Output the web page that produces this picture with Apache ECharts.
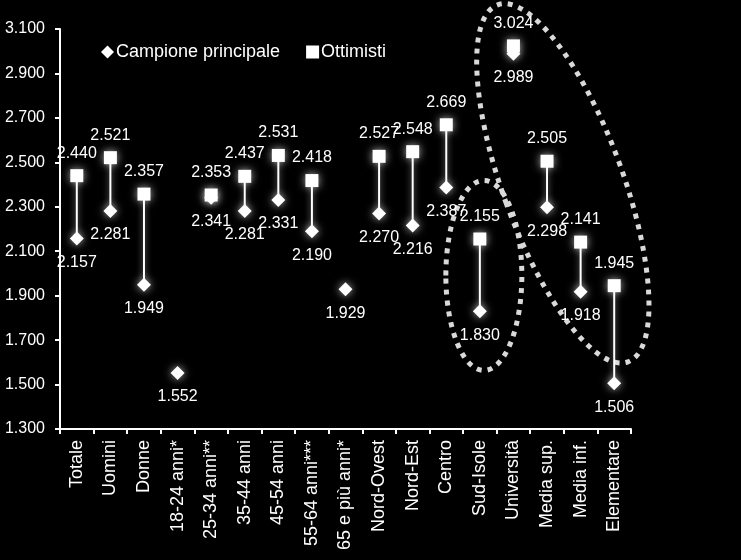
<!DOCTYPE html>
<html>
<head>
<meta charset="utf-8">
<script src="https://cdn.jsdelivr.net/npm/echarts@6/dist/echarts.min.js"></script>
<style>
html,body{margin:0;padding:0;background:#000;}
#c{width:741px;height:560px;}
</style>
</head>
<body>
<div id="c"></div>
<script>
const categories = ['Totale','Uomini','Donne','18-24 anni*','25-34 anni**','35-44 anni','45-54 anni','55-64 anni***','65 e più anni*','Nord-Ovest','Nord-Est','Centro','Sud-Isole','Università','Media sup.','Media inf.','Elementare'];
const campione = [2.157, 2.281, 1.949, 1.552, 2.341, 2.281, 2.331, 2.190, 1.929, 2.270, 2.216, 2.387, 1.830, 2.989, 2.298, 1.918, 1.506];
const ottimisti = [2.440, 2.521, 2.357, null, 2.353, 2.437, 2.531, 2.418, null, 2.527, 2.548, 2.669, 2.155, 3.024, 2.505, 2.141, 1.945];
const yMin = 1.3, yMax = 3.1, yStep = 0.2;

const FONT = '"Liberation Sans", Arial, sans-serif';
const chart = echarts.init(document.getElementById('c'));
const fmt = v => Number(v).toFixed(3);

const rangeData = categories.map((c, i) => ottimisti[i] == null ? [i, null, null] : [i, ottimisti[i], campione[i]]);

chart.setOption({
  backgroundColor: '#000',
  animation: false,
  grid: { left: 60, right: 110, top: 29, bottom: 131, containLabel: false },
  legend: {
    left: 96, top: 38,
    itemWidth: 13, itemHeight: 13, itemGap: 26,
    textStyle: { color: '#fff', fontSize: 18, fontFamily: FONT, padding: [0,0,0,-3] },
    data: [{ name: 'Campione principale', icon: 'diamond' }, { name: 'Ottimisti', icon: 'rect' }]
  },
  xAxis: {
    type: 'category', data: categories, boundaryGap: true,
    axisLine: { lineStyle: { color: '#fff', width: 2 } },
    axisTick: { show: true, length: 5, lineStyle: { color: '#fff', width: 2 }, alignWithLabel: false },
    axisLabel: { color: '#fff', fontSize: 18, fontFamily: FONT, rotate: 90, interval: 0, margin: 11 },
    splitLine: { show: false }
  },
  yAxis: {
    type: 'value', min: yMin, max: yMax, interval: yStep,
    axisLine: { show: true, lineStyle: { color: '#fff', width: 2 } },
    axisTick: { show: true, length: 5, lineStyle: { color: '#fff', width: 2 } },
    axisLabel: { color: '#fff', fontSize: 16, fontFamily: FONT, margin: 15, formatter: v => fmt(v) },
    splitLine: { show: false }
  },
  series: [
    {
      type: 'custom', name: 'range', silent: true, z: 1,
      data: rangeData,
      encode: { x: 0, y: [1, 2] },
      renderItem: function (params, api) {
        const hi = api.value(1), lo = api.value(2);
        if (hi == null || isNaN(hi)) return null;
        const p1 = api.coord([api.value(0), hi]);
        const p2 = api.coord([api.value(0), lo]);
        return { type: 'line', shape: { x1: p1[0], y1: p1[1], x2: p2[0], y2: p2[1] },
          style: { stroke: '#fff', lineWidth: 2, shadowBlur: 6, shadowColor: 'rgba(255,255,255,0.6)' } };
      }
    },
    {
      type: 'scatter', name: 'Campione principale', z: 3,
      symbol: 'diamond', symbolSize: 14,
      itemStyle: { color: '#fff', opacity: 1, shadowBlur: 8, shadowColor: 'rgba(255,255,255,0.7)' },
      label: { show: true, position: 'bottom', distance: 9, color: '#fff', fontSize: 16, fontFamily: FONT, formatter: p => fmt(p.value[1]) },
      data: campione.map((v, i) => [i, v])
    },
    {
      type: 'scatter', name: 'Ottimisti', z: 4,
      symbol: 'rect', symbolSize: 13,
      itemStyle: { color: '#fff', opacity: 1, shadowBlur: 8, shadowColor: 'rgba(255,255,255,0.7)' },
      label: { show: true, position: 'top', distance: 8, color: '#fff', fontSize: 16, fontFamily: FONT, formatter: p => fmt(p.value[1]) },
      data: ottimisti.map((v, i) => v == null ? [i, null] : [i, v])
    }
  ]
});

// dotted ellipse annotations, anchored on data coordinates
const p12 = chart.convertToPixel({ xAxisIndex: 0, yAxisIndex: 0 }, [12, 2.0]);
const p14 = chart.convertToPixel({ xAxisIndex: 0, yAxisIndex: 0 }, [14, 2.41]);
const p15 = chart.convertToPixel({ xAxisIndex: 0, yAxisIndex: 0 }, [15, 2.41]);
const dotStyle = { fill: 'none', stroke: '#d9d9d9', lineWidth: 5, lineDash: [5, 6] };
chart.setOption({
  graphic: [
    { type: 'ellipse', x: p12[0] + 4, y: p12[1] + 2, shape: { cx: 0, cy: 0, rx: 38, ry: 95 }, style: dotStyle, z: 0, silent: true },
    { type: 'ellipse', x: (p14[0] + p15[0]) / 2 - 1, y: p14[1] + 1, rotation: 0.35, shape: { cx: 0, cy: 0, rx: 60, ry: 190 }, style: dotStyle, z: 0, silent: true }
  ]
});
</script>
</body>
</html>
